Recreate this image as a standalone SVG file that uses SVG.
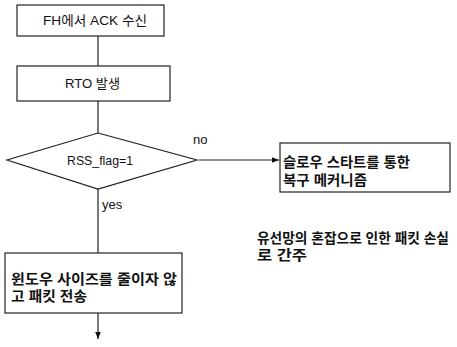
<svg xmlns="http://www.w3.org/2000/svg" width="457" height="347" viewBox="0 0 457 347">
<defs>
<marker id="ah" viewBox="0 0 10 10" refX="10" refY="5" markerWidth="7" markerHeight="7" orient="auto" markerUnits="userSpaceOnUse"><path d="M0,1 L10,5 L0,9 z" fill="#111"/></marker>
<style>
.b{fill:#fff;stroke:#222;stroke-width:1.2}
.t{font-family:"Liberation Sans","Noto Sans CJK KR",sans-serif;font-size:13px;fill:#111}
.k{font-family:"Liberation Sans","Noto Sans CJK KR",sans-serif;font-size:14px;font-weight:bold;fill:#111}
.c{stroke:#222;stroke-width:1.2;fill:none}
</style>
</defs>
<rect width="457" height="347" fill="#fff"/>
<g id="connectors">
<line class="c" x1="98" y1="36" x2="98" y2="66"/>
<line class="c" x1="98" y1="101" x2="98" y2="133"/>
<line class="c" x1="199" y1="160" x2="279" y2="160" marker-end="url(#ah)"/>
<line class="c" x1="98" y1="189" x2="98" y2="253"/>
<line class="c" x1="98" y1="313" x2="98" y2="339" marker-end="url(#ah)"/>
</g>
<g id="n1"><rect class="b" x="17" y="5" width="147" height="31"/><text class="t" x="43" y="25" textLength="104" lengthAdjust="spacingAndGlyphs">FH에서 ACK 수신</text></g>
<g id="n2"><rect class="b" x="17" y="66" width="153" height="35"/><text class="t" x="65" y="88" textLength="55" lengthAdjust="spacingAndGlyphs">RTO 발생</text></g>
<g id="n3"><polygon class="b" points="98,133 197,160 98,189 7,160"/><text class="t" x="67" y="165" textLength="66" lengthAdjust="spacingAndGlyphs">RSS_flag=1</text></g>
<text class="t" x="193" y="144">no</text>
<text class="t" x="102" y="209">yes</text>
<g id="n4"><rect class="b" x="280" y="143" width="170" height="49"/><text class="k" x="283" y="167" textLength="127" lengthAdjust="spacingAndGlyphs">슬로우 스타트를 통한</text><text class="k" x="283" y="185" textLength="84" lengthAdjust="spacingAndGlyphs">복구 메커니즘</text></g>
<g id="n5"><text class="k" x="257" y="243" textLength="192" lengthAdjust="spacingAndGlyphs">유선망의 혼잡으로 인한 패킷 손실</text><text class="k" x="257" y="260" textLength="50" lengthAdjust="spacingAndGlyphs">로 간주</text></g>
<g id="n6"><rect class="b" x="5" y="253" width="177" height="60"/><text class="k" x="11" y="284" textLength="166" lengthAdjust="spacingAndGlyphs">윈도우 사이즈를 줄이자 않</text><text class="k" x="11" y="301" textLength="76" lengthAdjust="spacingAndGlyphs">고 패킷 전송</text></g>
</svg>
